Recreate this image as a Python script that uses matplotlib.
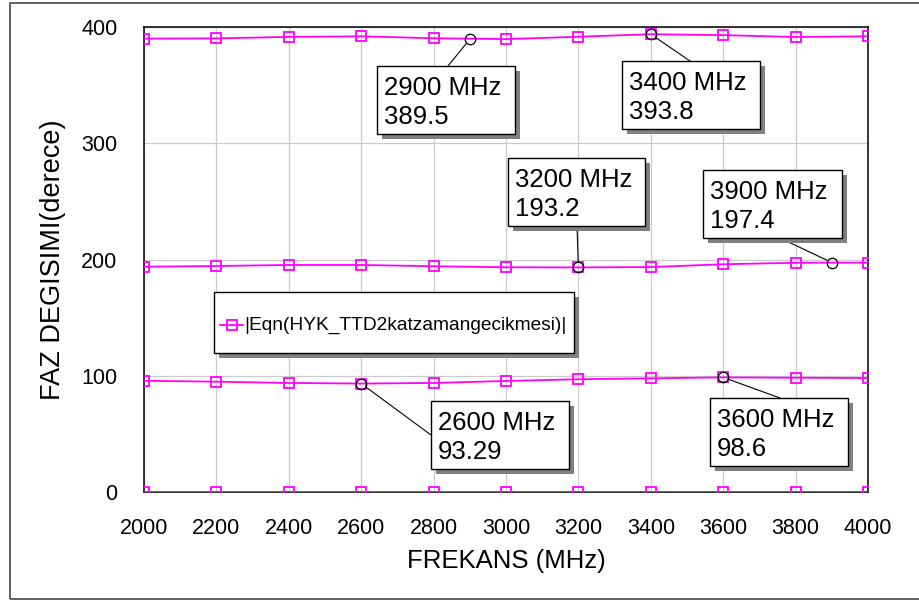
import matplotlib
matplotlib.use("Agg")
import matplotlib.pyplot as plt
from matplotlib.patches import Rectangle
from matplotlib.lines import Line2D

plt.rcParams['font.family'] = ['Liberation Sans', 'DejaVu Sans']

# ---------------- data ----------------
freqs = [2000, 2200, 2400, 2600, 2800, 3000, 3200, 3400, 3600, 3800, 4000]
phase_0 = [0, 0, 0, 0, 0, 0, 0, 0, 0, 0, 0]
phase_1 = [95.7, 94.9, 93.8, 93.29, 93.8, 95.5, 97.0, 97.8, 98.6, 98.3, 98.0]
phase_2 = [193.8, 194.4, 195.3, 195.3, 194.2, 193.3, 193.2, 193.5, 195.9, 197.2, 197.3]
phase_3 = [390.0, 390.2, 391.5, 392.0, 390.3, 389.6, 391.6, 393.8, 393.0, 391.4, 392.0]
series = [phase_0, phase_1, phase_2, phase_3]

marker_freqs = [2900, 3400, 3200, 3900, 2600, 3600]
marker_vals = [389.5, 393.8, 193.2, 197.4, 93.29, 98.6]
marker_texts = ["389.5", "393.8", "193.2", "197.4", "93.29", "98.6"]

legend_label = "|Eqn(HYK_TTD2katzamangecikmesi)|"
x_label = "FREKANS (MHz)"
y_label = "FAZ DEGISIMI(derece)"
x_ticks = [2000, 2200, 2400, 2600, 2800, 3000, 3200, 3400, 3600, 3800, 4000]
y_ticks = [0, 100, 200, 300, 400]

# ---------------- layout (pixels, top-left origin) ----------------
W, H = 919, 601
# box: (left, top, width, height), leader end point (x, y)
boxes = [(377, 66, 138, 68), (622, 61, 138, 68), (508, 158, 137, 68),
         (703, 170, 139, 68), (431, 401, 138, 68), (710, 398, 138, 68)]
leaders = [(448, 66), (690, 61), (577, 226), (780, 238), (431, 435), (780, 398)]

MAG = "#ff00ff"

fig = plt.figure(figsize=(W / 100, H / 100), dpi=100)
fig.patch.set_facecolor("white")

def fx(x):
    return x / W

def fy(y):
    return 1 - y / H

# outer frame (right edge lies outside the image)
fig.patches.append(Rectangle((fx(10), fy(599)), fx(1000) - fx(10), fy(3) - fy(599),
                             transform=fig.transFigure, fill=False,
                             edgecolor="#555555", lw=1.3))

ax_l, ax_t, ax_r, ax_b = 144, 27, 868, 492
ax = fig.add_axes([fx(ax_l), fy(ax_b), fx(ax_r) - fx(ax_l), fy(ax_t) - fy(ax_b)])

for vals in series:
    ax.plot(freqs, vals, color=MAG, lw=1.3, marker="s", markersize=7.8,
            markerfacecolor="none", markeredgecolor=MAG, markeredgewidth=1.3,
            clip_on=True, zorder=3)

ax.set_xlim(2000, 4000)
ax.set_ylim(0, 400)
ax.set_xticks(x_ticks)
ax.set_yticks(y_ticks)
ax.tick_params(length=0, labelsize=15.5, pad=0)
ax.tick_params(axis="x", pad=19)
ax.tick_params(axis="y", pad=19)
ax.grid(True, color="#cccccc", lw=0.9, zorder=0)
ax.set_axisbelow(True)
for s in ax.spines.values():
    s.set_color("black")
    s.set_linewidth(1.1)
ax.set_xlabel(x_label, fontsize=18.5, labelpad=7)
ax.set_ylabel(y_label, fontsize=19.5, labelpad=11)

# marker circles and leader lines
for (f, v, t, (bl, bt, bw, bh), (lx, ly)) in zip(marker_freqs, marker_vals, marker_texts, boxes, leaders):
    ax.plot([f], [v], marker="o", markersize=7.5, markerfacecolor="none",
            markeredgecolor="black", markeredgewidth=0.9, zorder=5, clip_on=False)
    ax.annotate("", xy=(f, v), xycoords="data",
                xytext=(lx, H - ly), textcoords="figure pixels",
                arrowprops=dict(arrowstyle="-", color="black", lw=0.8,
                                shrinkA=0, shrinkB=4), zorder=4)
    # shadow
    fig.patches.append(Rectangle((fx(bl + 5), fy(bt + bh + 5)), fx(bw), bh / H,
                                 transform=fig.transFigure, facecolor="#808080",
                                 edgecolor="none", zorder=6))
    fig.patches.append(Rectangle((fx(bl), fy(bt + bh)), fx(bw), bh / H,
                                 transform=fig.transFigure, facecolor="white",
                                 edgecolor="black", lw=1.0, zorder=7))
    fig.text(fx(bl + 7), fy(bt + 29), f"{f} MHz", fontsize=18.5, va="baseline",
             ha="left", zorder=8)
    fig.text(fx(bl + 7), fy(bt + 58), t, fontsize=18.5, va="baseline",
             ha="left", zorder=8)

# legend box
lg_l, lg_t, lg_w, lg_h = 214, 292, 360, 61
fig.patches.append(Rectangle((fx(lg_l + 5), fy(lg_t + lg_h + 5)), fx(lg_w), lg_h / H,
                             transform=fig.transFigure, facecolor="#808080",
                             edgecolor="none", zorder=6))
fig.patches.append(Rectangle((fx(lg_l), fy(lg_t + lg_h)), fx(lg_w), lg_h / H,
                             transform=fig.transFigure, facecolor="white",
                             edgecolor="black", lw=1.0, zorder=7))
ly_c = 325
fig.lines.append(Line2D([fx(220), fx(243)], [fy(ly_c), fy(ly_c)], transform=fig.transFigure,
                        color=MAG, lw=1.3, zorder=8))
fig.lines.append(Line2D([fx(231.5)], [fy(ly_c)], transform=fig.transFigure,
                        marker="s", markersize=7.8, markerfacecolor="none",
                        markeredgecolor=MAG, markeredgewidth=1.3, zorder=8))
fig.text(fx(244), fy(ly_c), legend_label, fontsize=13.8, va="center", ha="left", zorder=8)

fig.savefig("out.png", dpi=100)
